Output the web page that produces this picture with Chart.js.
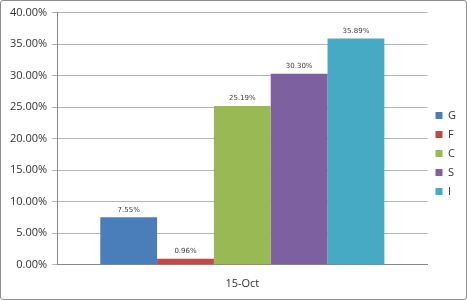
<!DOCTYPE html>
<html>
<head>
<meta charset="utf-8">
<script src="https://cdn.jsdelivr.net/npm/chart.js@4/dist/chart.umd.min.js"></script>
<style>
  html, body { margin: 0; padding: 0; background: #fff; }
  #wrap {
    width: 467px; height: 300px; box-sizing: border-box;
    border: 1px solid #8c8c8c; border-radius: 3px; position: relative;
  }
  #wrap canvas { position: absolute; left: 0; top: 0; }
</style>
</head>
<body>
<div id="wrap"><canvas id="chart" width="465" height="298"></canvas></div>
<script>
const categories = ['15-Oct'];
const seriesNames = ['G', 'F', 'C', 'S', 'I'];
const seriesValues = [[7.55], [0.96], [25.19], [30.30], [35.89]];
const seriesColors = ['#4a7ebb', '#be4b48', '#98b954', '#7d60a0', '#46aac5'];

const valueLabels = {
  id: 'valueLabels',
  afterDatasetsDraw(chart) {
    const ctx = chart.ctx;
    ctx.save();
    ctx.font = '7px "DejaVu Sans", sans-serif';
    ctx.fillStyle = '#404040';
    ctx.textAlign = 'center';
    ctx.textBaseline = 'bottom';
    chart.data.datasets.forEach((ds, i) => {
      chart.getDatasetMeta(i).data.forEach((bar, j) => {
        ctx.fillText(ds.data[j].toFixed(2) + '%', bar.x, bar.y - 4);
      });
    });
    ctx.restore();
  }
};

new Chart(document.getElementById('chart').getContext('2d'), {
  type: 'bar',
  data: {
    labels: categories,
    datasets: seriesNames.map((name, i) => ({
      label: name,
      data: seriesValues[i],
      backgroundColor: seriesColors[i],
      borderWidth: 0
    }))
  },
  options: {
    responsive: false,
    animation: false,
    categoryPercentage: 0.767,
    barPercentage: 1,
    layout: { padding: { top: 4, left: 4, right: 0, bottom: -3 } },
    plugins: {
      legend: {
        position: 'right',
        labels: {
          boxWidth: 7, boxHeight: 7, padding: 8,
          color: '#333',
          font: { family: '"Open Sans", sans-serif', size: 11 }
        }
      },
      tooltip: { enabled: false }
    },
    scales: {
      x: {
        grid: { display: false, drawTicks: false },
        border: { color: '#888' },
        ticks: { color: '#333', padding: 12, font: { family: '"Open Sans", sans-serif', size: 11 } }
      },
      y: {
        min: 0, max: 40,
        ticks: {
          stepSize: 5, color: '#333', padding: 5,
          font: { family: '"Open Sans", sans-serif', size: 11 },
          callback: v => v.toFixed(2) + '%'
        },
        grid: { color: '#b4b4b4', tickLength: 5 },
        border: { color: '#888' }
      }
    }
  },
  plugins: [valueLabels]
});
</script>
</body>
</html>
